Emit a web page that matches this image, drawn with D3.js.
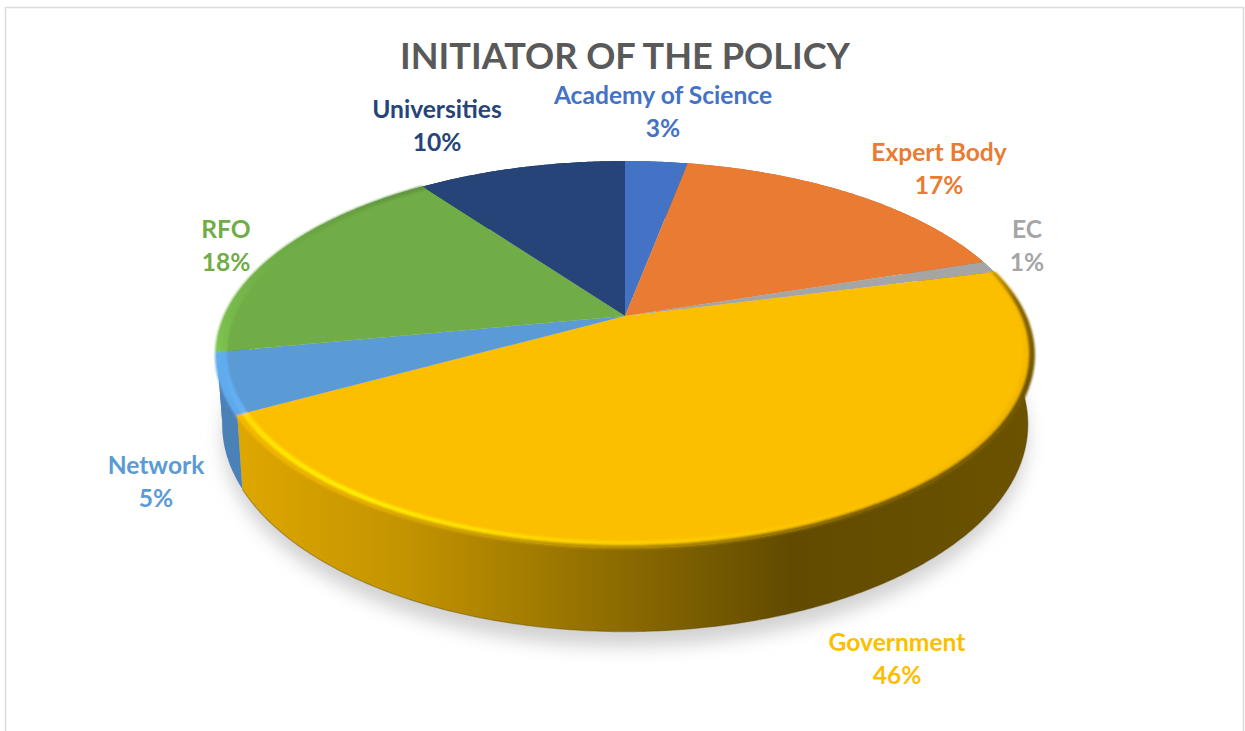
<!DOCTYPE html>
<html>
<head>
<meta charset="utf-8">
<title>Initiator of the policy</title>
<script src="https://cdn.jsdelivr.net/npm/d3@7"></script>
<style>
  html, body { margin: 0; padding: 0; background: #fff; }
  svg { display: block; }
  text { font-family: Lato, "Open Sans", sans-serif; font-weight: 700; text-anchor: middle; }
</style>
</head>
<body>
<svg id="chart" width="1245" height="731"></svg>
<script>
// Share of policies by initiating body, clockwise from twelve o'clock.
const categories = ["Academy of Science", "Expert Body", "EC", "Government", "Network", "RFO", "Universities"];
const shares = [3, 17, 1, 46, 5, 18, 10];
const chartTitle = "INITIATOR OF THE POLICY";

// Slice colours and the darker tones of their outer walls.
// The RFO wall only shows as a sliver beside Network, where the side reads as one blue surface.
const faceColors = ["#4472c4", "#ea7b33", "#a5a5a5", "#fcbf00", "#5b9bd5", "#70ad47", "#264478"];
const wallColors = ["#345a9c", "#b85f24", "#808080", "url(#govWall)", "#4a82b8", "#4a82b8", "#1c3359"];

// Label centres, one pair of lines per slice.
const labelCentres = [[663, 96], [939, 153], [1027, 230], [897, 643], [156, 466], [226, 230], [437, 110]];
const labelGap = 32.5;

// Perspective disc: the apex sits at (cx, cy) and the near edge bulges towards the viewer.
const cx = 625, cy = 316, radius = 400, squash = 185.8, tilt = 0.199, depth = 67, wallTaper = 0.013;

const svg = d3.select("#chart");
const defs = svg.append("defs");

function project(angle, r, z) {
  const x = Math.sin(angle) * r, y = -Math.cos(angle) * r;
  const f = 1 / (1 - tilt * y);
  return [cx + radius * x * f * (1 - wallTaper * z), cy + squash * y * f + z * depth * f];
}

function rimPoints(a0, a1, r, z) {
  const n = Math.max(2, Math.ceil((a1 - a0) / 0.01));
  return d3.range(n + 1).map(i => project(a0 + (a1 - a0) * i / n, r, z));
}

const linePath = d3.line();
const pieLayout = d3.pie().sort(null).value(d => d).startAngle(0).endAngle(2 * Math.PI);
const arcs = pieLayout(shares);

// Gradient for the long front wall, running from lit left to shaded right.
const wallGrad = defs.append("linearGradient").attr("id", "govWall")
  .attr("gradientUnits", "userSpaceOnUse").attr("x1", 245).attr("x2", 1030).attr("y1", 0).attr("y2", 0);
[[0, "#dda600"], [0.2, "#c49400"], [0.325, "#ab8200"], [0.516, "#846500"], [0.694, "#624b00"], [1, "#6a5200"]]
  .forEach(([o, c]) => wallGrad.append("stop").attr("offset", o).attr("stop-color", c));

defs.append("filter").attr("id", "softShadow").attr("x", "-10%").attr("y", "-20%").attr("width", "120%").attr("height", "140%")
  .append("feGaussianBlur").attr("stdDeviation", 9);
defs.append("filter").attr("id", "softEdge").attr("x", "-5%").attr("y", "-5%").attr("width", "110%").attr("height", "110%")
  .append("feGaussianBlur").attr("stdDeviation", 1);

// Chart frame: top and side rules only.
svg.append("path").attr("d", "M5.5,731V7.5H1243.5V731").attr("fill", "none").attr("stroke", "#dcdcdc").attr("stroke-width", 1.6);

// Title
svg.append("text").attr("x", 625).attr("y", 69).attr("font-size", 37)
  .attr("textLength", 450).attr("lengthAdjust", "spacingAndGlyphs")
  .attr("fill", "#595959").text(chartTitle);

// Ground shadow below the disc
svg.append("path")
  .attr("d", linePath(rimPoints(0, 2 * Math.PI, 1.0, 1.12).map(p => [p[0], p[1] + 5])) + "Z")
  .attr("fill", "#d2d2d2").attr("filter", "url(#softShadow)");

// Outer walls
const walls = svg.append("g");
arcs.forEach((d, i) => {
  const outline = rimPoints(d.startAngle, d.endAngle, 1, 0)
    .concat(rimPoints(d.startAngle, d.endAngle, 1, 1).reverse());
  walls.append("path").attr("d", linePath(outline) + "Z").attr("fill", wallColors[i]);
});
const govArc = arcs[categories.indexOf("Government")];
walls.append("path").attr("d", linePath(rimPoints(govArc.startAngle, govArc.endAngle, 1, 1)))
  .attr("fill", "none").attr("stroke", "#5c4500").attr("stroke-width", 1.2).attr("opacity", 0.4);

// Top faces
const faces = svg.append("g");
arcs.forEach((d, i) => {
  const outline = [[cx, cy]].concat(rimPoints(d.startAngle, d.endAngle, 1, 0));
  faces.append("path").attr("d", linePath(outline) + "Z").attr("fill", faceColors[i]);
});

// Bevel along the rim: a lit band and an outer band whose tones follow the angle in degrees.
const bevelTones = {
  "Government": {
    lit: d3.scaleLinear().domain([76, 120, 150, 180, 215, 241]).range(["#fcbf00", "#f2b600", "#fcc000", "#ffd000", "#fff000", "#ffdc00"]),
    edge: d3.scaleLinear().domain([76, 85, 110, 150, 180, 215, 241]).range(["#c89800", "#8a6a00", "#6f5500", "#7a5d00", "#b08a00", "#e6ae00", "#f5b800"])
  },
  "Network": {
    lit: d3.scaleLinear().domain([241, 259]).range(["#66b2f4", "#60aaec"]),
    edge: d3.scaleLinear().domain([241, 259]).range(["#5fa8e8", "#62aeee"])
  },
  "RFO": {
    lit: d3.scaleLinear().domain([259, 290]).range(["#7cc04e", "#70ad47"]),
    edge: d3.scaleLinear().domain([259, 290]).range(["#80c650", "#70ad47"])
  }
};
const bevel = svg.append("g").attr("filter", "url(#softEdge)");
arcs.forEach((d, i) => {
  const tones = bevelTones[categories[i]];
  if (!tones) return;
  const steps = Math.ceil((d.endAngle - d.startAngle) / 0.012);
  d3.range(steps).forEach(s => {
    const a0 = d.startAngle + (d.endAngle - d.startAngle) * s / steps;
    const a1 = d.startAngle + (d.endAngle - d.startAngle) * (s + 1.3) / steps;
    const deg = (a0 * 180) / Math.PI;
    const band = (r0, r1, col) => bevel.append("path")
      .attr("d", linePath([project(a0, r0, 0), project(Math.min(a1, d.endAngle), r0, 0), project(Math.min(a1, d.endAngle), r1, 0), project(a0, r1, 0)]) + "Z")
      .attr("fill", col);
    band(0.976, 0.99, tones.lit(deg));
    band(0.99, 1.004, tones.edge(deg));
  });
});

// Category and percentage labels, coloured after their slices.
const labels = svg.append("g").attr("font-size", 24.6);
categories.forEach((name, i) => {
  const [lx, ly] = labelCentres[i];
  labels.append("text").attr("x", lx).attr("y", ly + 8).attr("fill", faceColors[i]).text(name);
  labels.append("text").attr("x", lx).attr("y", ly + labelGap + 8).attr("fill", faceColors[i]).text(shares[i] + "%");
});
</script>
</body>
</html>
